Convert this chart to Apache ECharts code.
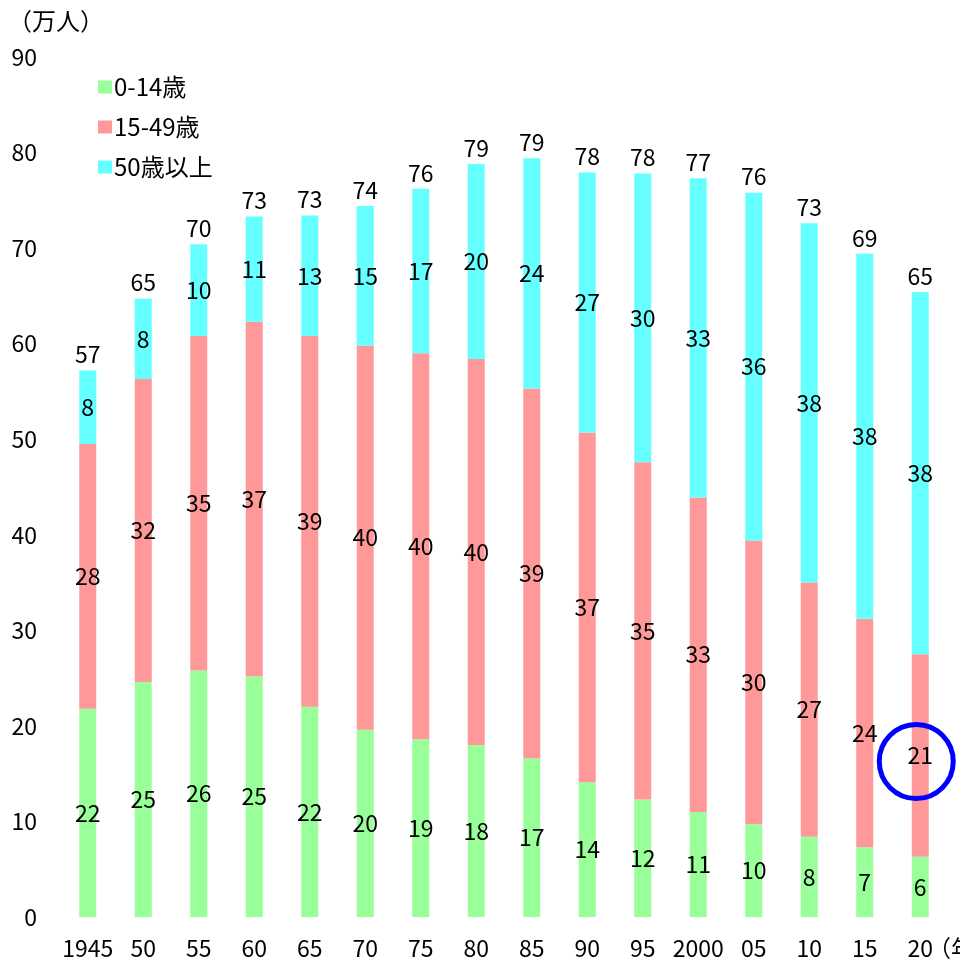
<!DOCTYPE html>
<html>
<head>
<meta charset="utf-8">
<script src="https://cdn.jsdelivr.net/npm/echarts@6/dist/echarts.min.js"></script>
<style>
  html, body { margin: 0; padding: 0; background: #fff; }
  #chart { width: 960px; height: 966px; }
</style>
</head>
<body>
<div id="chart"></div>
<script>
// Population by age group (万人), every five years
const years = ['1945', '50', '55', '60', '65', '70', '75', '80', '85', '90', '95', '2000', '05', '10', '15', '20'];
const age0to14  = [21.8, 24.6, 25.8, 25.2, 22.0, 19.6, 18.6, 18.0, 16.6, 14.1, 12.3, 11.0, 9.7, 8.4, 7.3, 6.3];
const age15to49 = [27.7, 31.7, 35.0, 37.1, 38.8, 40.2, 40.4, 40.4, 38.7, 36.6, 35.3, 32.9, 29.7, 26.6, 23.9, 21.2];
const age50plus = [7.7, 8.4, 9.6, 11.0, 12.6, 14.6, 17.2, 20.4, 24.1, 27.2, 30.2, 33.4, 36.4, 37.6, 38.2, 37.9];
const seriesNames = ['0-14歳', '15-49歳', '50歳以上'];
const yTicks = { min: 0, max: 90, interval: 10 };

// Stack totals shown above each bar
const totals = years.map((_, i) => +(age0to14[i] + age15to49[i] + age50plus[i]).toFixed(1));

const FONT = '"Noto Sans CJK JP", "Noto Sans", sans-serif';
const FS = 23;
const colors = ['#99FF99', '#FF9999', '#66FFFF'];

const chart = echarts.init(document.getElementById('chart'));

const segLabel = {
  show: true,
  position: 'inside',
  color: '#000',
  fontFamily: FONT,
  fontSize: FS,
  formatter: p => Math.round(p.value)
};

function barSeries(name, data, color) {
  return {
    name, type: 'bar', stack: 'pop', data,
    barWidth: 17,
    itemStyle: { color },
    label: segLabel,
    emphasis: { disabled: true }
  };
}

chart.setOption({
  animation: false,
  textStyle: { fontFamily: FONT },
  title: {
    text: '（万人）',
    left: 3, top: 4,
    textStyle: { fontFamily: FONT, fontSize: 24, fontWeight: 'normal', color: '#000' }
  },
  legend: {
    orient: 'vertical',
    left: 93, top: 70,
    itemWidth: 14, itemHeight: 13,
    itemGap: 16,
    icon: 'rect',
    textStyle: { fontFamily: FONT, fontSize: 24, color: '#000', padding: [0, 0, 0, -3] },
    data: seriesNames
  },
  grid: { left: 60, right: 12, top: 57, bottom: 49, containLabel: false, outerBoundsMode: 'none' },
  xAxis: {
    type: 'category',
    data: years,
    name: '（年）',
    nameLocation: 'end',
    nameGap: -20,
    nameMoveOverlap: false,
    nameTextStyle: { fontFamily: FONT, fontSize: FS, color: '#000', verticalAlign: 'top', padding: [20, 0, 0, 0] },
    axisLine: { show: false },
    axisTick: { show: false },
    axisLabel: { color: '#000', fontFamily: FONT, fontSize: FS, margin: 20, interval: 0 }
  },
  yAxis: {
    type: 'value',
    min: yTicks.min, max: yTicks.max, interval: yTicks.interval,
    axisLine: { show: false },
    axisTick: { show: false },
    splitLine: { show: false },
    axisLabel: { color: '#000', fontFamily: FONT, fontSize: FS, margin: 23 }
  },
  series: [
    barSeries(seriesNames[0], age0to14, colors[0]),
    barSeries(seriesNames[1], age15to49, colors[1]),
    barSeries(seriesNames[2], age50plus, colors[2]),
    {
      name: 'total', type: 'scatter', data: totals,
      symbolSize: 1,
      itemStyle: { color: 'rgba(0,0,0,0)', opacity: 1 },
      label: {
        show: true, position: 'top', distance: 4,
        color: '#000', fontFamily: FONT, fontSize: FS,
        formatter: p => Math.round(p.value)
      },
      emphasis: { disabled: true },
      silent: true
    }
  ]
});

// Highlight ring around the latest 15-49 segment
const last = years.length - 1;
const ringCenter = chart.convertToPixel({ xAxisIndex: 0, yAxisIndex: 0 },
  [years[last], age0to14[last] + age15to49[last] / 2]);
chart.setOption({
  graphic: [{
    type: 'circle',
    shape: { cx: ringCenter[0] - 4, cy: ringCenter[1] + 6, r: 37 },
    style: { fill: 'none', stroke: '#0000FF', lineWidth: 5 },
    z: 100
  }]
});
</script>
</body>
</html>
